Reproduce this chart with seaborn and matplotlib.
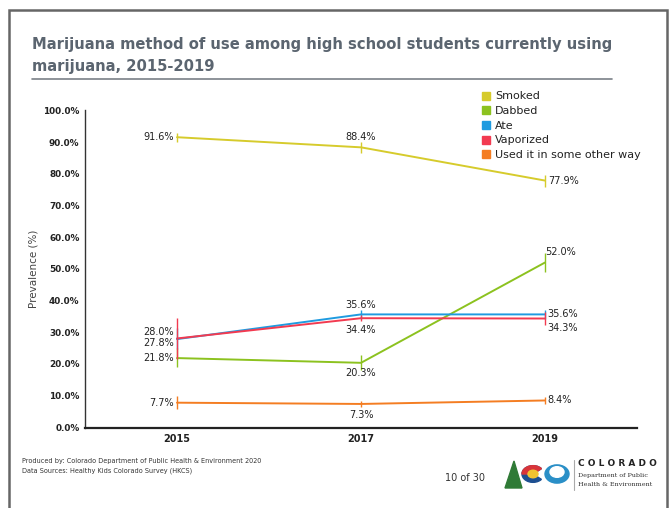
import matplotlib
matplotlib.use("Agg")
import matplotlib.pyplot as plt
import matplotlib.patches as mpatches
from matplotlib.lines import Line2D
import numpy as np
import pandas as pd
import seaborn as sns

# Survey years
years = [2015, 2017, 2019]

# Method of use (percent of current users) with 95% confidence bounds
methods = ["Smoked", "Dabbed", "Ate", "Vaporized", "Used it in some other way"]
smoked = [91.6, 88.4, 77.9]
smoked_lo = [90.2, 86.6, 76.0]
smoked_hi = [93.0, 90.2, 79.8]
dabbed = [21.8, 20.3, 52.0]
dabbed_lo = [18.9, 17.9, 49.0]
dabbed_hi = [24.9, 22.8, 55.0]
ate = [27.8, 35.6, 35.6]
ate_lo = [24.6, 34.1, 34.1]
ate_hi = [31.2, 37.1, 37.1]
vaporized = [28.0, 34.4, 34.3]
vaporized_lo = [21.5, 33.5, 32.3]
vaporized_hi = [34.5, 35.3, 36.3]
other = [7.7, 7.3, 8.4]
other_lo = [5.7, 6.3, 7.4]
other_hi = [9.7, 8.3, 9.4]

values = [smoked, dabbed, ate, vaporized, other]
lows = [smoked_lo, dabbed_lo, ate_lo, vaporized_lo, other_lo]
highs = [smoked_hi, dabbed_hi, ate_hi, vaporized_hi, other_hi]

palette = {
    "Smoked": "#d6cb2c",
    "Dabbed": "#8cc21f",
    "Ate": "#1f9be0",
    "Vaporized": "#f23a50",
    "Used it in some other way": "#f47d22",
}

rows = []
for m, v, lo, hi in zip(methods, values, lows, highs):
    for y, val, l, h in zip(years, v, lo, hi):
        rows.append({"Year": y, "Method": m, "Prevalence": val, "Low": l, "High": h})
df = pd.DataFrame(rows)

sns.set_theme(style="white")
plt.rcParams["font.family"] = ["DejaVu Sans"]

W, H = 670, 508
fig = plt.figure(figsize=(W / 100, H / 100), dpi=100)
ax = fig.add_axes([85 / W, 1 - 428 / H, (637 - 85) / W, (428 - 110) / H])

sns.lineplot(data=df, x="Year", y="Prevalence", hue="Method", palette=palette,
             hue_order=methods, linewidth=1.4, legend=False, ax=ax)

# Confidence-interval whiskers
for m in methods:
    sub = df[df["Method"] == m]
    ax.vlines(sub["Year"], sub["Low"], sub["High"], color=palette[m], linewidth=1.0)

ax.set_xlim(2014, 2020)
ax.set_ylim(-0.3, 100.2)
ax.set_xticks(years)
ax.set_xticklabels([str(y) for y in years], fontsize=7, fontweight="bold", color="#222222")
ax.set_yticks(np.arange(0, 101, 10))
ax.set_yticklabels([f"{t:.1f}%" for t in np.arange(0, 101, 10)], fontsize=6.4,
                   fontweight="bold", color="#222222")
ax.tick_params(axis="both", length=0, pad=4)
ax.set_xlabel("")
ax.set_ylabel("Prevalence (%)", fontsize=7.5, color="#444444")
ax.yaxis.set_label_coords(-0.085, 0.5)
for s in ["top", "right"]:
    ax.spines[s].set_visible(False)
ax.spines["left"].set_color("#333333")
ax.spines["left"].set_linewidth(1.0)
ax.spines["bottom"].set_color("#222222")
ax.spines["bottom"].set_linewidth(1.6)

# Value labels: (dx points, dy points, ha, va) per method and year
lab_fs = 7
placements = {
    "Smoked": [(-2, 0, "right", "center"), (0, 4, "center", "bottom"), (2, 0, "left", "center")],
    "Dabbed": [(-2, 0, "right", "center"), (0, -4, "center", "top"), (0, 4, "left", "bottom")],
    "Ate": [(-2, -2.5, "right", "center"), (0, 3, "center", "bottom"), (2, 0, "left", "center")],
    "Vaporized": [(-2, 5, "right", "center"), (0, -5, "center", "top"), (2, -3, "left", "top")],
    "Used it in some other way": [(-2, 0, "right", "center"), (0, -4, "center", "top"), (2, 0, "left", "center")],
}
for m, v in zip(methods, values):
    for y, val, (dx, dy, ha, va) in zip(years, v, placements[m]):
        ax.annotate(f"{val:.1f}%", (y, val), xytext=(dx, dy), textcoords="offset points",
                    ha=ha, va=va, fontsize=lab_fs, color="#222222")

# Legend with square markers
handles = [Line2D([0], [0], marker="s", linestyle="", markersize=6,
                  markerfacecolor=palette[m], markeredgecolor=palette[m]) for m in methods]
leg = fig.legend(handles, methods, loc="upper left", bbox_to_anchor=(476 / W, 1 - 87 / H),
                 frameon=False, fontsize=8, handletextpad=0.3, labelspacing=0.42,
                 handlelength=1.0, borderaxespad=0)
for t in leg.get_texts():
    t.set_color("#222222")

# Slide frame
fig.add_artist(mpatches.Rectangle((9 / W, -0.05), (667 - 9) / W, 1.05 - 10 / H,
                                  transform=fig.transFigure, fill=False,
                                  edgecolor="#666666", linewidth=1.8))

# Title and rule
fig.text(32 / W, 1 - 45 / H, "Marijuana method of use among high school students currently using",
         fontsize=10.6, fontweight="bold", color="#5b6570", va="center", ha="left")
fig.text(32 / W, 1 - 66 / H, "marijuana, 2015-2019",
         fontsize=10.6, fontweight="bold", color="#5b6570", va="center", ha="left")
fig.add_artist(Line2D([32 / W, 612 / W], [1 - 79 / H, 1 - 79 / H], transform=fig.transFigure,
                      color="#7a8088", linewidth=1.2))

# Footer
fig.text(22 / W, 1 - 461 / H, "Produced by: Colorado Department of Public Health & Environment 2020",
         fontsize=4.7, color="#333333", va="center")
fig.text(22 / W, 1 - 471 / H, "Data Sources: Healthy Kids Colorado Survey (HKCS)",
         fontsize=4.7, color="#333333", va="center")
fig.text(445 / W, 1 - 478 / H, "10 of 30", fontsize=7, color="#333333", va="center")

# Department emblem
fig.add_artist(mpatches.Polygon([[505 / W, 1 - 488 / H], [522 / W, 1 - 488 / H], [514 / W, 1 - 461 / H]],
                                closed=True, transform=fig.transFigure, color="#2f7a36"))
fig.add_artist(mpatches.Wedge((533 / W, 1 - 474 / H), 11 / W, 40, 320, width=5 / W,
                              transform=fig.transFigure, color="#1d4f91"))
fig.add_artist(mpatches.Wedge((533 / W, 1 - 474 / H), 11 / W, 40, 180, width=5 / W,
                              transform=fig.transFigure, color="#d9343a"))
fig.add_artist(mpatches.Circle((533 / W, 1 - 474 / H), 5 / W, transform=fig.transFigure,
                               color="#f2c230"))
fig.add_artist(mpatches.Circle((557 / W, 1 - 474 / H), 12 / W, transform=fig.transFigure,
                               color="#2a8fc7"))
fig.add_artist(mpatches.Circle((557 / W, 1 - 472 / H), 7 / W, transform=fig.transFigure,
                               color="#ffffff"))
fig.add_artist(Line2D([574 / W, 574 / W], [1 - 460 / H, 1 - 490 / H], transform=fig.transFigure,
                      color="#aaaaaa", linewidth=0.8))
fig.text(578 / W, 1 - 464 / H, "C O L O R A D O", fontsize=6.5, fontweight="bold",
         color="#222222", va="center", family="DejaVu Sans")
fig.text(578 / W, 1 - 476 / H, "Department of Public", fontsize=4.6, color="#333333",
         va="center", family="DejaVu Serif")
fig.text(578 / W, 1 - 484 / H, "Health & Environment", fontsize=4.6, color="#333333",
         va="center", family="DejaVu Serif")

fig.savefig("out.png", dpi=100, facecolor="white")
